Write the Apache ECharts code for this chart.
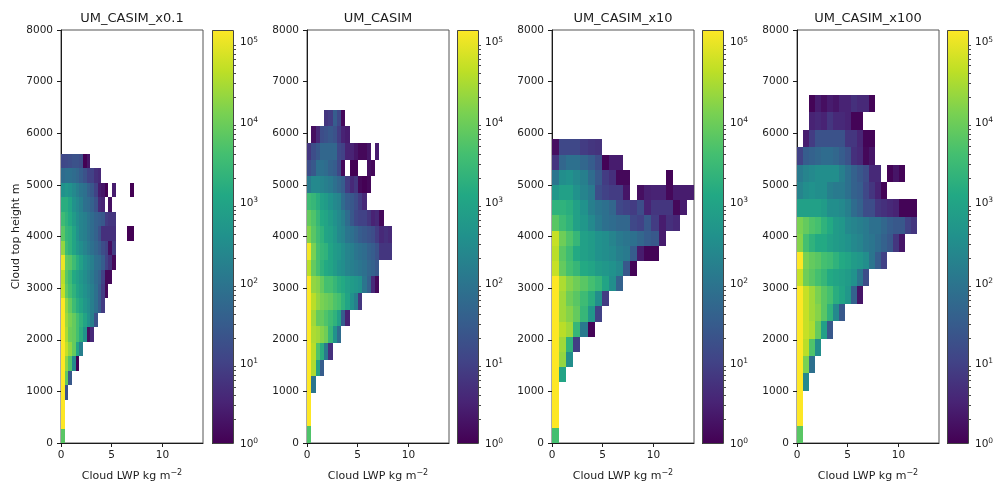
<!DOCTYPE html>
<html><head><meta charset="utf-8">
<style>html,body{margin:0;padding:0;background:#fff}#c{width:998px;height:481px}</style>
<script src="https://cdn.jsdelivr.net/npm/echarts@6/dist/echarts.min.js"></script>
</head><body><div id="c"></div>
<script>
// log10(count) per bin; rows listed from the top row to the bottom row, columns from low LWP upward
var _ = null;
var titles = ['UM_CASIM_x0.1','UM_CASIM','UM_CASIM_x10','UM_CASIM_x100'];
var xTicks = [0,5,10];
var yTicks = [0,1000,2000,3000,4000,5000,6000,7000,8000];
var cbDecades = [0,1,2,3,4,5];
var cbMinor = [2,3,4,5,6,7,8,9];
var vMax = 5.14;
var viridis = ['#440154','#482475','#414487','#355f8d','#2a788e','#21918c','#22a884','#44bf70','#7ad151','#bddf26','#fde725'];
var xBinWidths = [0.36,0.42,0.70,0.59];
var yBinHeights = [280,323,294,337];

var countsA = [
[1.1,1.15,1.2,1.3,1.3,1.2,0,0.3],
[1.8,1.9,1.9,1.8,1.7,1.5,1.3,1.0,1.0,0.7,0.6],
[2.6,2.7,2.6,2.4,2.2,2.0,1.9,1.6,1.4,1.0,0.4,0.3,0,_,0.4,_,_,_,_,0],
[3.2,3.2,3.0,2.6,2.4,2.2,1.9,1.8,1.6,1.3,0.6,0.5,_,0.2],
[3.5,3.3,3.1,2.8,2.5,2.3,2.2,2.0,1.8,1.6,1.5,1.4,0.9,0.8,0.8],
[3.8,3.4,3.3,3.0,2.6,2.3,2.2,2.0,1.8,1.6,1.3,0.7,0.7,0.7,0.7,_,_,_,0,0],
[4.3,3.5,3.3,3.0,2.7,2.5,2.3,2.1,1.9,1.7,1.5,1.2,1.0,0.2,0.9],
[5.0,3.9,3.8,3.5,3.2,2.9,2.6,2.4,2.2,1.9,1.8,1.5,1.0,0.7,0.1],
[4.6,3.8,3.5,3.1,2.9,2.7,2.5,2.3,2.1,1.8,1.6,1.0,0.1,0.1],
[4.7,3.9,3.6,3.3,3.0,2.8,2.6,2.4,2.2,1.9,1.5,0.9,0.1],
[5.14,4.3,3.9,3.5,3.2,3.0,2.7,2.5,2.2,1.9,1.5,0.9],
[5.14,4.4,4.1,3.9,3.6,3.3,3.0,2.6,2.2,1.3],
[5.14,4.5,4.0,3.9,3.6,3.2,2.6,0.2,0.6],
[5.14,4.7,4.3,3.9,3.0,2.2],
[5.14,4.3,3.7,2.4,0],
[5.14,3.9,1.4],
[5.14,1.3],
[5.14],
[5.14],
[3.8]
];
var countsB = [
[_,_,_,_,0.8,0.9,1.5,1.1,0.1],
[_,0.2,0.6,1.2,1.3,1.4,1.3,0.9,0.5,0.4],
[0.8,1.2,1.4,1.7,1.7,1.7,1.7,1.1,1.0,0.5,0.5,0.3,0.1,0.1,0.3,_,0.4],
[1.2,1.4,1.9,1.9,1.8,1.6,1.5,1.1,0.1,_,0,0,_,_,0.2,0.1],
[2.1,2.4,2.4,2.3,2.2,2.1,1.9,1.7,1.5,0.9,0.6,0.8,0.1,0,0.1],
[3.5,3.4,3.2,2.9,2.8,2.6,2.4,2.3,1.8,1.5,1.4,1.2,0.9,0.6],
[3.9,3.7,3.4,3.1,3.0,2.8,2.6,2.4,2.2,1.8,1.4,1.1,1.0,1.0,0.8,0.5,0.6,0.1],
[4.2,3.8,3.5,3.3,3.0,2.9,2.7,2.4,2.3,2.0,1.9,1.7,1.5,1.4,1.3,1.2,0.9,0.6,0.7,0.6],
[5.05,4.1,3.6,3.4,3.3,3.0,2.8,2.7,2.5,2.3,2.2,2.0,1.9,1.8,1.6,1.5,1.3,0.8,0.8,0.8],
[4.6,3.9,3.6,3.3,3.1,3.0,2.8,2.6,2.5,2.3,2.2,2.1,2.0,1.9,1.7,1.6,1.4],
[5.14,4.3,4.2,3.9,3.6,3.6,3.4,3.2,3.1,2.9,2.8,2.7,2.6,2.0,1.6,0.6,0.1],
[5.14,4.6,4.3,4.1,4.0,3.9,3.7,3.6,3.3,3.0,2.6,2.2,0.8],
[5.14,4.4,3.9,3.9,3.7,3.5,3.3,2.9,1.5,0.5],
[5.14,4.5,4.4,4.2,4.0,3.4,2.6,1.8],
[5.14,4.6,3.7,3.2,2.1,0.7],
[5.14,4.5,2.9,1.5],
[5.14,2.0],
[5.14],
[5.14],
[3.7]
];
var countsC = [
[0.2,1.1,1.1,1.1,0.9,0.8,0.75],
[0.8,1.7,1.9,1.9,1.7,1.5,1.2,0.05,0.4,0.4],
[2.0,2.5,2.6,2.4,2.2,1.8,1.4,0.9,0.7,0.1,0.1,_,_,_,_,_,0.05],
[2.7,2.9,2.9,2.6,2.3,2.1,1.2,1.0,0.9,0.9,0.3,_,0.2,0.45,0.5,0.5,0.1,0.4,0.4,0.4],
[3.3,3.3,3.2,2.9,2.6,2.2,2.0,1.9,1.7,1.1,1.0,0.9,1.2,0.5,0.8,0.8,0.8,0.1,0.4],
[3.8,3.5,3.3,2.9,2.7,2.4,2.1,1.9,1.8,1.7,1.7,1.1,1.0,1.4,0.9,0.4,0.7,0.6],
[4.7,4.0,3.7,3.4,2.9,2.8,2.6,2.5,2.3,2.1,2.0,1.9,1.7,1.5,1.4,0.4],
[4.6,3.8,3.5,3.1,2.9,2.8,2.6,2.5,2.4,2.2,2.1,1.5,0.4,0.05,0.05],
[4.7,3.9,3.6,3.4,3.1,3.0,2.8,2.7,2.6,2.4,1.4,0.05],
[5.14,4.5,4.2,4.0,3.8,3.6,3.4,3.0,2.5,1.6],
[5.14,4.4,4.0,3.8,3.5,3.2,2.5,0.9],
[5.14,4.4,4.2,3.9,3.4,2.7,1.0],
[5.14,4.6,4.4,3.4,2.1,0.05],
[5.14,4.4,3.3,0.95],
[5.14,4.3,2.5],
[5.14,3.0],
[5.14],
[5.14],
[5.14],
[3.6]
];
var countsD = [
[_,_,0.05,0.4,0.2,0.4,0.3,0.5,0.5,0.7,0.6,0.6,0.05],
[_,_,0.5,0.6,0.5,0.8,0.6,0.6,0.5,0.05,0.05],
[_,0.4,0.9,1.3,1.3,1.3,1.3,1.3,0.8,0.8,0.55,0.05,0.05],
[1.0,1.5,1.6,1.7,1.8,1.8,1.7,1.5,1.3,0.7,0.6,0.1,0.3],
[2.1,2.3,2.4,2.5,2.5,2.5,2.5,2.2,1.9,1.6,1.4,1.2,0.6,0.6,_,0.05,0.3,0.05],
[2.3,2.5,2.6,2.5,2.5,2.2,2.1,2.1,1.9,1.6,1.5,1.1,0.8,0.5,0.05],
[2.9,2.9,2.9,2.9,2.8,2.5,2.5,2.4,2.2,1.8,1.6,1.2,1.2,0.8,0.7,0.6,0.5,0.05,0.05,0.05],
[4.1,3.9,3.7,3.6,3.3,3.1,2.8,2.7,2.4,2.3,2.2,2.1,1.9,1.9,1.7,1.5,1.4,1.4,1.0,0.8],
[4.2,3.6,3.3,3.1,3.1,2.9,2.8,2.7,2.6,2.4,2.3,2.1,2.0,1.8,1.6,1.4,0.8,0.3],
[5.14,4.1,3.9,3.8,3.6,3.5,3.3,3.1,3.0,2.8,2.7,2.5,2.0,1.5,1.0],
[4.7,4.0,3.8,3.6,3.4,3.1,3.0,2.9,2.8,2.6,2.0,1.2],
[5.14,4.7,4.4,4.1,3.8,3.6,3.2,3.0,2.7,1.6,0.3],
[5.14,4.7,4.4,4.2,3.8,3.3,2.4,1.4],
[5.14,4.7,4.5,3.9,2.9,1.4],
[5.14,4.6,3.7,2.5],
[5.14,4.1,1.9],
[5.14,2.4],
[5.14],
[5.14],
[3.8]
];
var allCounts = [countsA,countsB,countsC,countsD];

var plotLeft = [61,307,552,797];
var cbLeft = [212,457,702,947];
var plotWidth = 142, cbWidth = 21, plotTop = 30, plotHeight = 413;
var font = '"DejaVu Sans"';
var ink = '#1c1c1c';

var grids=[],xAxes=[],yAxes=[],series=[],titleOpts=[],heatIdx=[];

function cellRender(params,api){
  var x0=api.value(0), y0=api.value(1), w=api.value(3), h=api.value(4);
  var a=api.coord([x0,y0+h]), b=api.coord([x0+w,y0]);
  var L=Math.round(a[0]),T=Math.round(a[1]),R=Math.round(b[0]),B=Math.round(b[1]);
  return {type:'rect',shape:{x:L,y:T,width:R-L,height:B-T},style:{fill:api.visual('color')}};
}
function cbRender(params,api){
  var a=api.coord([0,vMax]), b=api.coord([1,0]);
  var stops=viridis.map(function(c,i){return {offset:1-i/(viridis.length-1),color:c};}).reverse();
  return {type:'rect',shape:{x:a[0],y:a[1],width:b[0]-a[0],height:b[1]-a[1]},
    style:{fill:{type:'linear',x:0,y:0,x2:0,y2:1,colorStops:stops}}};
}
function minorRender(params,api){
  var p=api.coord([1,api.value(0)]);
  var y=Math.round(p[1])+0.5;
  return {type:'line',shape:{x1:p[0],y1:y,x2:p[0]+3,y2:y},style:{stroke:ink,lineWidth:0.8}};
}
var cbMinorValues=[];
cbDecades.forEach(function(d){cbMinor.forEach(function(k){var v=d+Math.log10(k);if(v<vMax)cbMinorValues.push([v]);});});

titles.forEach(function(t,p){
  var g=grids.length;
  grids.push({left:plotLeft[p],top:plotTop,width:plotWidth,height:plotHeight,outerBoundsMode:'none',show:true,borderColor:'#555',borderWidth:1,backgroundColor:'#fff'});
  xAxes.push({gridIndex:g,type:'value',min:0,max:14,position:'bottom',
    name:'{n|Cloud LWP kg m}{s|\u22122}',nameLocation:'middle',nameGap:26,
    nameTextStyle:{rich:{n:{fontFamily:font,fontSize:11,color:ink},s:{fontFamily:font,fontSize:8,color:ink,padding:[0,0,6,0]}}},
    axisLine:{show:true,onZero:false,lineStyle:{color:ink,width:1}},
    axisTick:{show:true,length:4,customValues:xTicks,lineStyle:{color:ink,width:1}},
    axisLabel:{show:true,customValues:xTicks,fontFamily:font,fontSize:10.5,color:ink,margin:7},
    splitLine:{show:false}});
  yAxes.push({gridIndex:g,type:'value',min:0,max:8000,interval:1000,
    name:p===0?'Cloud top height m':'',nameLocation:'middle',nameGap:39,nameRotate:90,
    nameTextStyle:{fontFamily:font,fontSize:11,color:ink},
    axisLine:{show:true,onZero:false,lineStyle:{color:ink,width:1}},
    axisTick:{show:true,length:4,lineStyle:{color:ink,width:1}},
    axisLabel:{show:true,fontFamily:font,fontSize:10.5,color:ink,margin:8,padding:[2,0,0,0],formatter:function(v){return String(v);}},
    splitLine:{show:false}});
  titleOpts.push({text:t,left:plotLeft[p]+plotWidth/2,top:12,padding:0,textAlign:'center',
    textStyle:{fontFamily:font,fontSize:13,fontWeight:'normal',color:ink}});
  var cells=[];
  allCounts[p].forEach(function(row,i){
    var rowFromBottom=allCounts[p].length-1-i;
    row.forEach(function(v,j){
      if(v!==null) cells.push([j*xBinWidths[p],rowFromBottom*yBinHeights[p],v,xBinWidths[p],yBinHeights[p]]);
    });
  });
  heatIdx.push(series.length);
  series.push({type:'custom',xAxisIndex:g,yAxisIndex:g,coordinateSystem:'cartesian2d',clip:true,silent:true,
    encode:{x:0,y:1},renderItem:cellRender,data:cells,animation:false});

  var c=grids.length;
  grids.push({left:cbLeft[p],top:plotTop,width:cbWidth,height:plotHeight,outerBoundsMode:'none',show:false});
  xAxes.push({gridIndex:c,type:'value',min:0,max:1,show:false});
  yAxes.push({gridIndex:c,type:'value',min:0,max:vMax,position:'right',interval:1,
    axisLine:{show:false},
    axisTick:{show:true,length:5,customValues:cbDecades,lineStyle:{color:ink,width:1}},
    axisLabel:{show:true,customValues:cbDecades,margin:7,padding:[3,0,0,0],
      formatter:function(v){return '{b|10}{s|'+Math.round(v)+'}';},
      rich:{b:{fontFamily:font,fontSize:10.5,color:ink},s:{fontFamily:font,fontSize:7.5,color:ink,padding:[0,0,6,0]}}},
    splitLine:{show:false}});
  series.push({type:'custom',xAxisIndex:c,yAxisIndex:c,coordinateSystem:'cartesian2d',clip:false,silent:true,
    renderItem:cbRender,data:[[0,0]],animation:false,z:1});
  series.push({type:'custom',xAxisIndex:c,yAxisIndex:c,coordinateSystem:'cartesian2d',clip:false,silent:true,
    encode:{y:0},renderItem:minorRender,data:cbMinorValues,animation:false,z:3});
  series.push({type:'custom',xAxisIndex:c,yAxisIndex:c,coordinateSystem:'cartesian2d',clip:false,silent:true,
    renderItem:function(params,api){
      var a=api.coord([0,vMax]),b=api.coord([1,0]);
      return {type:'rect',shape:{x:a[0]+.5,y:a[1]+.5,width:b[0]-a[0],height:b[1]-a[1]},style:{fill:'none',stroke:'#444',lineWidth:1}};
    },data:[[0,0]],animation:false,z:4});
});

var chart=echarts.init(document.getElementById('c'),null,{renderer:'canvas'});
chart.setOption({animation:false,backgroundColor:'#fff',title:titleOpts,tooltip:{show:false},
  grid:grids,xAxis:xAxes,yAxis:yAxes,series:series,
  visualMap:[{type:'continuous',show:false,seriesIndex:heatIdx,dimension:2,min:0,max:vMax,inRange:{color:viridis}}]});
</script></body></html>
